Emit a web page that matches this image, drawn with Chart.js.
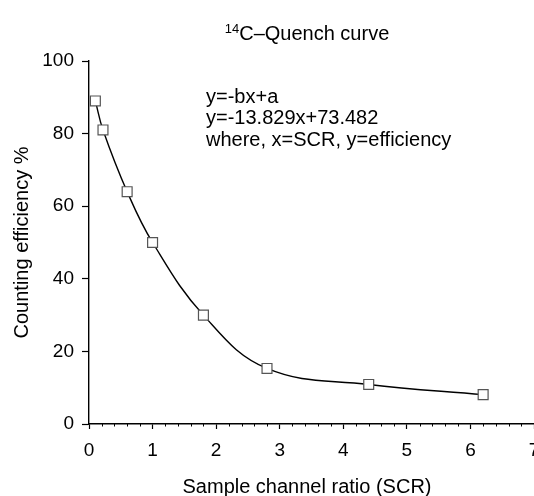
<!DOCTYPE html>
<html>
<head>
<meta charset="utf-8">
<script src="https://cdn.jsdelivr.net/npm/chart.js@4.4.0/dist/chart.umd.min.js"></script>
<style>
  html, body { margin: 0; padding: 0; background: #fff; }
  #wrap { width: 534px; height: 496px; }
</style>
</head>
<body>
<div id="wrap"><canvas id="quenchChart" width="534" height="496"></canvas></div>
<script>
const scrValues = [0.1, 0.22, 0.6, 1.0, 1.8, 2.8, 4.4, 6.2];
const efficiencyValues = [89, 81, 64, 50, 30, 15.3, 10.9, 8.1];
const xTicks = [0, 1, 2, 3, 4, 5, 6, 7];
const yTicks = [0, 20, 40, 60, 80, 100];
const equationLines = ['y=-bx+a', 'y=-13.829x+73.482', 'where, x=SCR, y=efficiency'];

const FONT = '"Liberation Sans", Arial, sans-serif';
const TEXT_CENTER = 307;

// small minor ticks every 0.2 along the x axis
const minorTicks = {
    id: 'minorTicks',
    afterDraw(chart) {
        const x = chart.scales.x;
        const c = chart.ctx;
        c.save();
        c.strokeStyle = '#000';
        c.lineWidth = 1;
        for (let i = 1; i < 35; i++) {
            if (i % 5 === 0) continue;
            const px = Math.round(x.getPixelForValue(i * 0.2)) + 0.5;
            c.beginPath();
            c.moveTo(px, x.top);
            c.lineTo(px, x.top + 2.5);
            c.stroke();
        }
        c.restore();
    }
};

// title with superscript, x axis title and the equation note
const labels = {
    id: 'labels',
    afterDraw(chart) {
        const c = chart.ctx;
        c.save();
        c.fillStyle = '#000';
        c.textBaseline = 'alphabetic';
        c.font = '13px ' + FONT;
        const supW = c.measureText('14').width;
        c.font = '20px ' + FONT;
        const mainW = c.measureText('C\u2013Quench curve').width;
        const startX = TEXT_CENTER - (supW + mainW) / 2;
        c.font = '13px ' + FONT;
        c.fillText('14', startX, 33);
        c.font = '20px ' + FONT;
        c.fillText('C\u2013Quench curve', startX + supW, 40);

        c.textAlign = 'center';
        c.textBaseline = 'middle';
        c.fillText('Sample channel ratio (SCR)', TEXT_CENTER, 487);

        c.textAlign = 'left';
        equationLines.forEach((line, i) => {
            c.fillText(line, 206, 97 + i * 21.5);
        });
        c.restore();
    }
};

const ctx = document.getElementById('quenchChart').getContext('2d');
const quenchChart = new Chart(ctx, {
    type: 'scatter',
    data: {
        datasets: [{
            data: scrValues.map((v, i) => ({ x: v, y: efficiencyValues[i] })),
            showLine: true,
            tension: 0.4,
            borderColor: '#000',
            borderWidth: 1.4,
            pointStyle: 'rect',
            pointRadius: 7,
            pointBorderWidth: 1.2,
            pointBorderColor: '#555',
            pointBackgroundColor: '#fff'
        }]
    },
    options: {
        responsive: false,
        animation: false,
        layout: { autoPadding: false, padding: { top: 61, right: -2, left: 0, bottom: 0 } },
        plugins: {
            legend: { display: false },
            tooltip: { enabled: false }
        },
        scales: {
            x: {
                type: 'linear',
                min: 0,
                max: 7,
                afterBuildTicks: (scale) => { scale.ticks = xTicks.map(v => ({ value: v })); },
                afterFit: (scale) => { scale.height = 72; scale.paddingLeft = 0; scale.paddingRight = 0; },
                ticks: { color: '#000', font: { family: FONT, size: 19 }, padding: 10, maxRotation: 0 },
                grid: { drawOnChartArea: false, drawTicks: true, tickLength: 5, color: '#000', tickWidth: 1.2 },
                border: { display: true, color: '#000', width: 1.4 }
            },
            y: {
                min: 0,
                max: 100,
                afterBuildTicks: (scale) => { scale.ticks = yTicks.map(v => ({ value: v })); },
                afterFit: (scale) => { scale.width = 89; scale.paddingTop = 0; scale.paddingBottom = 0; },
                ticks: { color: '#000', font: { family: FONT, size: 19 }, padding: 8 },
                grid: { drawOnChartArea: false, drawTicks: true, tickLength: 7, color: '#000', tickWidth: 1.2 },
                border: { display: true, color: '#000', width: 1.4 },
                title: {
                    display: true,
                    text: 'Counting efficiency %',
                    color: '#000',
                    font: { family: FONT, size: 20, lineHeight: 1.2 },
                    padding: { top: 10, bottom: 0 }
                }
            }
        }
    },
    plugins: [minorTicks, labels]
});
</script>
</body>
</html>
